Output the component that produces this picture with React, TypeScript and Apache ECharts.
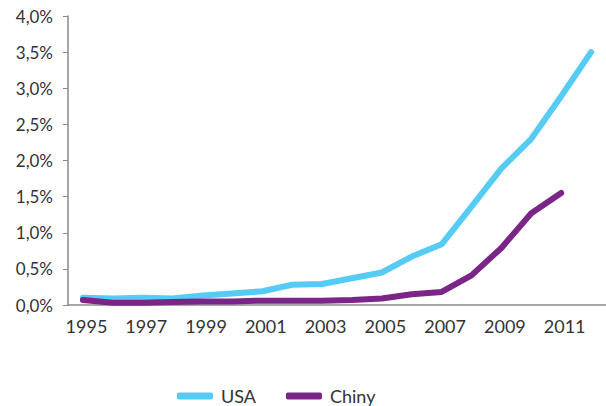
import React, { useEffect, useRef } from "react";
import * as echarts from "echarts";

const years = ["1995","1996","1997","1998","1999","2000","2001","2002","2003","2004","2005","2006","2007","2008","2009","2010","2011","2012"];
const usa = [0.10,0.09,0.10,0.09,0.13,0.16,0.19,0.28,0.29,0.37,0.45,0.67,0.84,1.36,1.89,2.30,2.89,3.50];
const chiny: (number | null)[] = [0.07,0.03,0.03,0.04,0.05,0.05,0.06,0.06,0.06,0.07,0.09,0.15,0.18,0.41,0.79,1.27,1.55,null];
const seriesNames = ["USA", "Chiny"];
const colors = ["#56CBF5", "#7B2587"];

export default function App() {
  const ref = useRef<HTMLDivElement>(null);
  useEffect(() => {
    if (!ref.current) return;
    const chart = echarts.init(ref.current, null, { renderer: "svg" });
    const axisColor = "#8a8a8a";
    chart.setOption({
      animation: false,
      textStyle: { fontFamily: "Lato" },
      grid: { left: 68, right: 0, top: 16, bottom: 101 },
      xAxis: {
        type: "category",
        data: years,
        boundaryGap: true,
        axisLine: { lineStyle: { color: axisColor, width: 1.5 } },
        axisTick: { interval: 0, length: 5, lineStyle: { color: axisColor } },
        axisLabel: {
          interval: 1,
          color: "#333333",
          fontSize: 18,
          fontFamily: "Lato",
          margin: 12,
          padding: [0, 0, 0, 7],
        },
      },
      yAxis: {
        type: "value",
        min: 0,
        max: 4,
        interval: 0.5,
        splitLine: { show: false },
        axisLine: { show: true, lineStyle: { color: axisColor, width: 1.5 } },
        axisTick: { show: true, length: 5, lineStyle: { color: axisColor } },
        axisLabel: {
          color: "#333333",
          fontSize: 17,
          fontFamily: "Lato",
          margin: 15,
          formatter: (v: number) => v.toFixed(1).replace(".", ",") + "%",
        },
      },
      legend: {
        data: seriesNames,
        left: 172,
        top: 382,
        itemWidth: 36,
        itemHeight: 7,
        itemGap: 30,
        icon: "roundRect",
        textStyle: { color: "#333333", fontSize: 18, fontFamily: "Lato", padding: [0, 0, 0, 3] },
      },
      series: [
        {
          name: seriesNames[0],
          type: "line",
          data: usa,
          symbol: "none",
          color: colors[0],
          lineStyle: { width: 6, color: colors[0], cap: "round", join: "round" },
        },
        {
          name: seriesNames[1],
          type: "line",
          data: chiny,
          symbol: "none",
          color: colors[1],
          lineStyle: { width: 6, color: colors[1], cap: "round", join: "round" },
        },
      ],
    });
    return () => chart.dispose();
  }, []);
  return (
    <div
      ref={ref}
      style={{ position: "fixed", left: 0, top: 0, width: 606, height: 406, background: "#fff" }}
    />
  );
}
